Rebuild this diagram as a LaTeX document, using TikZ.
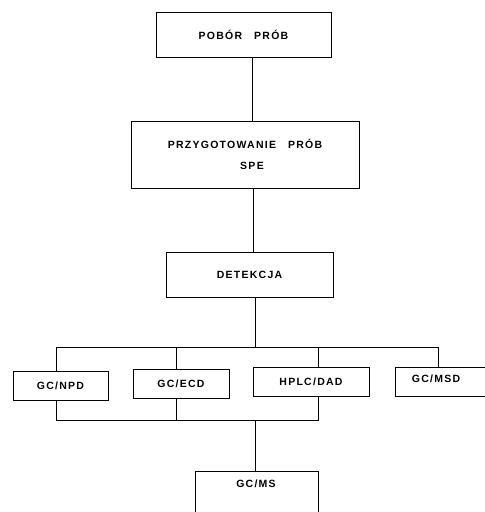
\documentclass[tikz,border=0pt]{standalone}
\usepackage{fontspec}
\setmainfont{Liberation Sans}[LetterSpace=12]
\begin{document}
\begin{tikzpicture}[x=1pt,y=-1pt,
  box/.style={draw, line width=0.9pt, inner sep=0pt, align=center,
    font=\bfseries\fontsize{10.5}{21}\selectfont},
  lab/.style={inner sep=0pt, font=\bfseries\fontsize{10.5}{21}\selectfont},
  conn/.style={line width=0.9pt}]
\useasboundingbox (0,0) rectangle (485,512);
\clip (0,0) rectangle (485,512);
\fill[white] (0,0) rectangle (485,512);
% boxes
\node[box, minimum width=175pt, minimum height=45pt] (b1) at (243.5,34.5) {POB\'OR\hspace{12pt}PR\'OB};
\node[box, minimum width=228pt, minimum height=67pt] (b2) at (245,154.5) {PRZYGOTOWANIE\hspace{12pt}PR\'OB\\\hspace*{14pt}SPE};
\node[box, minimum width=167pt, minimum height=45pt] (b3) at (249.5,274.5) {DETEKCJA};
\node[box, minimum width=95pt, minimum height=29pt] (npd) at (60.5,385.5) {GC/NPD};
\node[box, minimum width=96pt, minimum height=29pt] (ecd) at (181,383.5) {GC/ECD};
\node[box, minimum width=116pt, minimum height=29pt] (hplc) at (311,381.5) {HPLC/DAD};
\node[box, minimum width=112pt, minimum height=29pt, anchor=north west] (msd) at (394.5,366.5) {};
\node[lab] (msdt) at (436,379) {GC/MSD};
\node[box, minimum width=123pt, minimum height=60pt, anchor=north west] (gcms) at (194.5,470.5) {};
\node[lab] (gcmst) at (256,484) {GC/MS};
% junctions
\coordinate (tb) at (255,347);
\coordinate (tl) at (56,347);
\coordinate (tr) at (438,347);
\coordinate (bb) at (255,420);
\coordinate (bl) at (56,420);
\coordinate (br) at (318,420);
% connectors
\draw[conn] (b1.south -| 252,0) -- (b2.north -| 252,0);
\draw[conn] (b2.south -| 253,0) -- (b3.north -| 253,0);
\draw[conn] (b3.south -| tb) -- (tb);
\draw[conn] (tl) -- (tr);
\draw[conn] (tl) -- (npd.north -| tl);
\draw[conn] (176,347) -- (ecd.north -| 176,0);
\draw[conn] (318,347) -- (hplc.north -| 318,0);
\draw[conn] (tr) -- (msd.north -| tr);
\draw[conn] (npd.south -| bl) -- (bl) -- (br) -- (hplc.south -| br);
\draw[conn] (ecd.south -| 176,0) -- (176,420);
\draw[conn] (bb) -- (gcms.north -| bb);
\end{tikzpicture}
\end{document}
